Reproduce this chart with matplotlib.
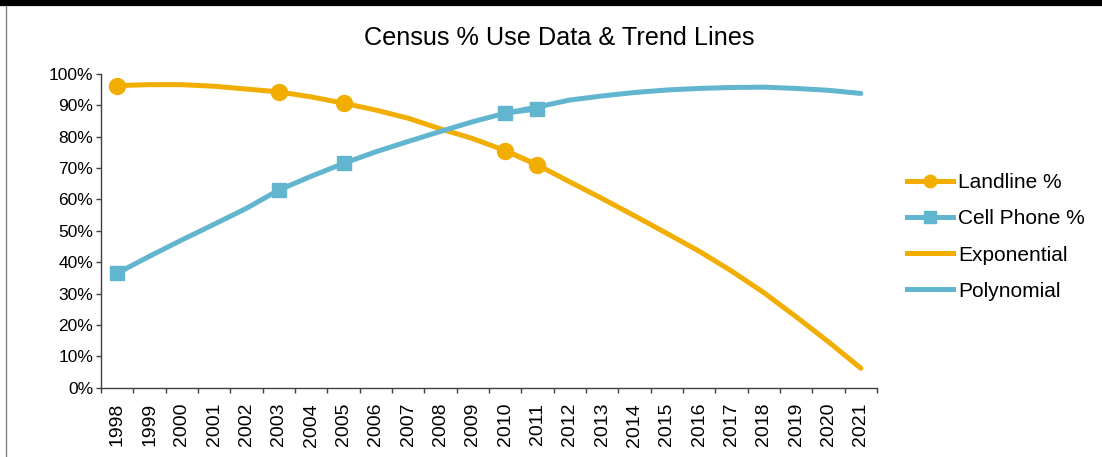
import numpy as np
import matplotlib
matplotlib.use("Agg")
import matplotlib.pyplot as plt
from matplotlib.ticker import FuncFormatter

plt.rcParams['font.family'] = ['Liberation Sans', 'DejaVu Sans']

years = [str(y) for y in range(1998, 2022)]

# survey points (NaN where no survey that year)
nan = np.nan
landline = [96.3, nan, nan, nan, nan, 94.4, nan, 90.7, nan, nan, nan, nan,
            75.6, 71.0, nan, nan, nan, nan, nan, nan, nan, nan, nan, nan]
cell = [36.5, nan, nan, nan, nan, 63.0, nan, 71.5, nan, nan, nan, nan,
        87.5, 88.9, nan, nan, nan, nan, nan, nan, nan, nan, nan, nan]

# fitted trend values per year
exp_trend = [96.3, 96.6, 96.6, 96.1, 95.2, 94.3, 92.7, 90.7, 88.5, 85.9,
             82.5, 79.4, 75.6, 71.0, 65.6, 60.3, 54.8, 49.2, 43.5, 37.2,
             30.3, 22.6, 14.6, 6.2]
poly_trend = [36.5, 41.9, 47.1, 52.1, 57.2, 63.0, 67.4, 71.5, 75.2, 78.5,
              81.7, 84.8, 87.5, 89.5, 91.7, 93.0, 94.1, 94.9, 95.4, 95.7,
              95.8, 95.4, 94.8, 93.8]

orange = '#F2AE00'
blue = '#62B5CF'

fig = plt.figure(figsize=(11.02, 4.57), dpi=100)
ax = fig.add_axes([101 / 1102, (457 - 387.7) / 457, 776 / 1102, 313.7 / 457])

x = np.arange(len(years))
ax.plot(x, exp_trend, color=orange, lw=3.6, solid_capstyle='round', zorder=2)
ax.plot(x, poly_trend, color=blue, lw=3.6, solid_capstyle='round', zorder=2)
ax.plot(x, landline, color=orange, lw=3.6, marker='o', ms=11.5, zorder=3)
ax.plot(x, cell, color=blue, lw=3.6, marker='s', ms=9.5, zorder=3)

ax.set_xlim(-0.5, len(years) - 0.5)
ax.set_ylim(0, 100)
ax.set_yticks(range(0, 101, 10))
ax.yaxis.set_major_formatter(FuncFormatter(lambda v, p: f'{v:.0f}%'))
ax.set_xticks(x)
ax.set_xticklabels(years, rotation=90)
ax.set_xticks(np.arange(-0.5, len(years)), minor=True)
ax.tick_params(axis='x', which='major', length=0, pad=11, labelsize=14)
ax.tick_params(axis='x', which='minor', length=3.6, width=1, color='#404040')
ax.tick_params(axis='y', length=3.6, width=1, color='#404040', labelsize=12.5, pad=2)
for side in ('top', 'right'):
    ax.spines[side].set_visible(False)
for side in ('left', 'bottom'):
    ax.spines[side].set_color('#404040')
    ax.spines[side].set_linewidth(1)

fig.text(559 / 1102, 1 - 38 / 457, 'Census % Use Data & Trend Lines',
         ha='center', va='center', fontsize=18.2)

handles = [
    plt.Line2D([], [], color=orange, lw=3.6, marker='o', ms=9),
    plt.Line2D([], [], color=blue, lw=3.6, marker='s', ms=8),
    plt.Line2D([], [], color=orange, lw=3.6),
    plt.Line2D([], [], color=blue, lw=3.6),
]
fig.legend(handles, ['Landline %', 'Cell Phone %', 'Exponential', 'Polynomial'],
           loc='center left', bbox_to_anchor=(907 / 1102, 1 - 237 / 457),
           frameon=False, fontsize=15, handlelength=2.2, handletextpad=0.25,
           labelspacing=0.82, borderpad=0, borderaxespad=0)

# frame around the chart area
fig.add_artist(plt.Line2D([0, 1], [1 - 3 / 457, 1 - 3 / 457], color='black', lw=4.5))
fig.add_artist(plt.Line2D([5.5 / 1102, 5.5 / 1102], [0, 1 - 6 / 457], color='#808080', lw=1))

fig.savefig('out.png', dpi=100)
